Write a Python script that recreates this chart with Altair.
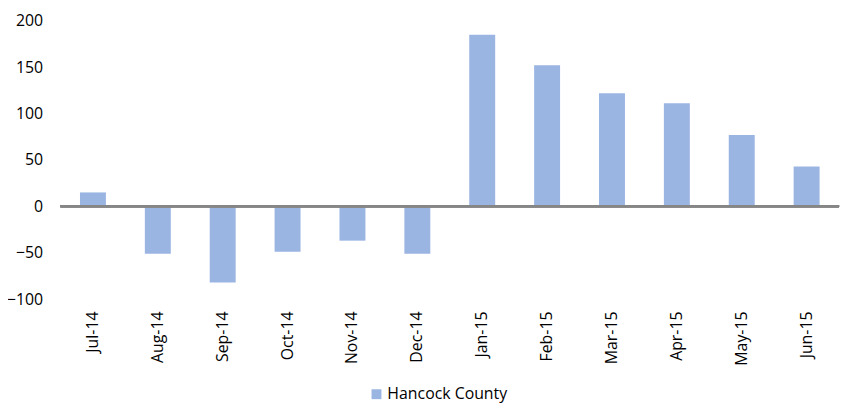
import altair as alt
import pandas as pd

months = ["Jul-14", "Aug-14", "Sep-14", "Oct-14", "Nov-14", "Dec-14",
          "Jan-15", "Feb-15", "Mar-15", "Apr-15", "May-15", "Jun-15"]
values = [15, -51, -82, -49, -37, -51, 185, 152, 122, 111, 77, 43]
series_name = "Hancock County"
y_ticks = [-100, -50, 0, 50, 100, 150, 200]

df = pd.DataFrame({"month": months, "value": values, "series": [series_name] * len(months)})

FONT = "Open Sans"

bars = alt.Chart(df).mark_bar(color="#9BB5E3").encode(
    x=alt.X("month:N", sort=months,
            scale=alt.Scale(paddingInner=0.6, paddingOuter=0.3),
            axis=alt.Axis(title=None, labelAngle=270, domain=False, ticks=False,
                          labelPadding=12, labelFont=FONT, labelFontSize=16,
                          labelColor="#000000")),
    y=alt.Y("value:Q", scale=alt.Scale(domain=[-100, 200], nice=False),
            axis=alt.Axis(title=None, values=y_ticks, domain=False, ticks=False, grid=False,
                          labelPadding=18, labelFont=FONT, labelFontSize=16,
                          labelColor="#000000")),
    color=alt.Color("series:N", scale=alt.Scale(range=["#9BB5E3"]),
                    legend=alt.Legend(title=None, orient="none", legendX=311, legendY=369,
                                      symbolType="square", symbolSize=100, symbolStrokeWidth=0,
                                      labelFont=FONT, labelFontSize=16, labelColor="#000000",
                                      labelOffset=3)),
)

zero = alt.Chart(df).mark_rule(color="#868686", strokeWidth=2).encode(y=alt.datum(0))

chart = alt.layer(bars, zero).properties(
    width=786, height=281,
    autosize=alt.AutoSizeParams(type="none"),
    padding={"left": 53, "top": 11, "right": 6, "bottom": 105},
).configure_view(stroke=None)

chart.save("out.html", embed_options={"renderer": "svg", "actions": False})
